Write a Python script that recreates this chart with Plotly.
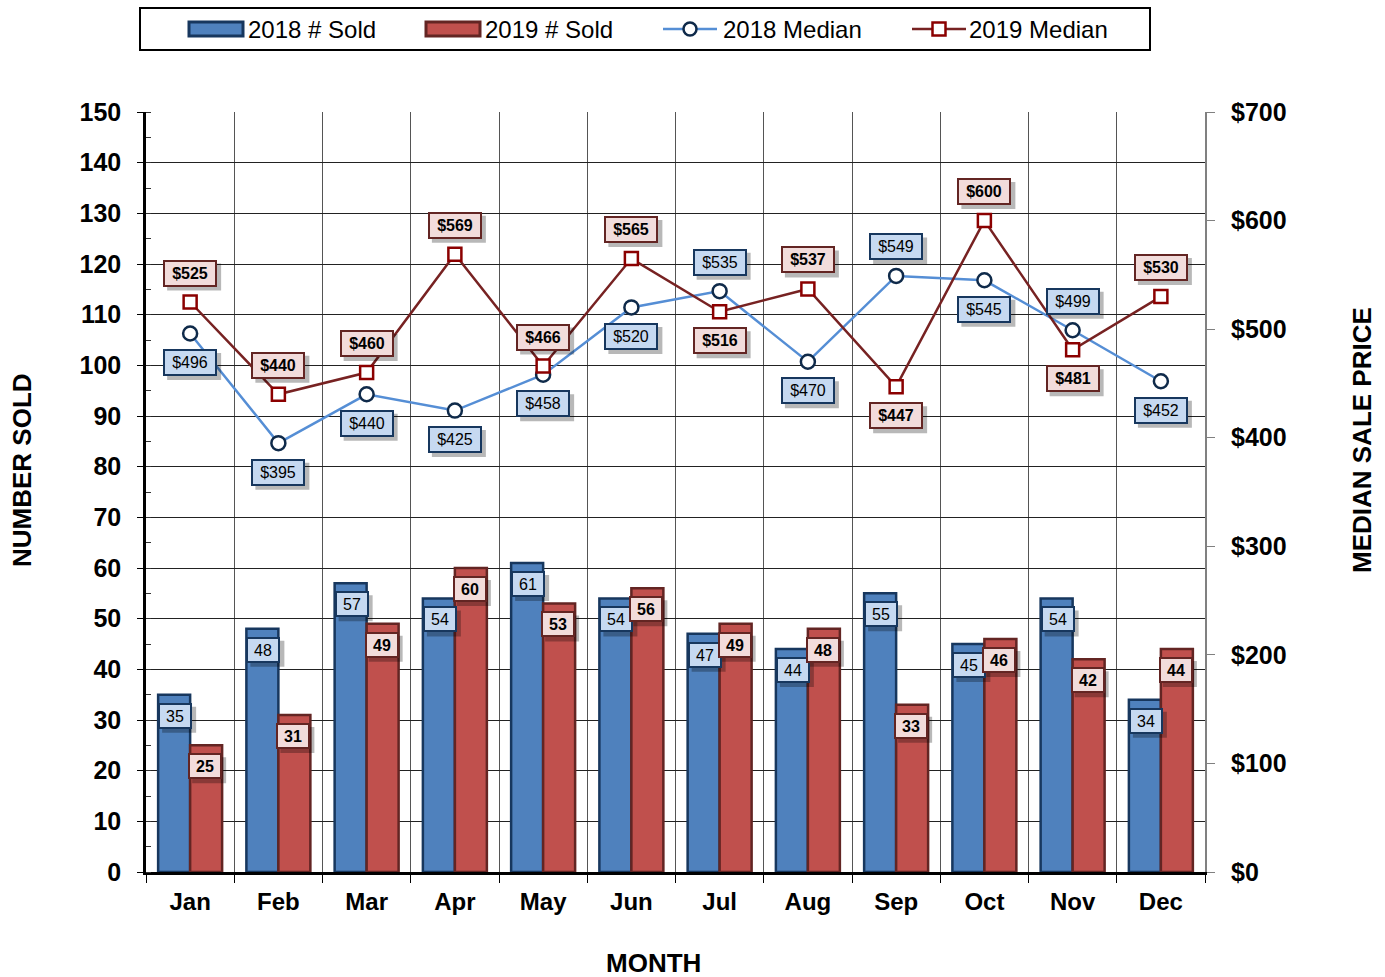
import plotly.graph_objects as go

months = ["Jan", "Feb", "Mar", "Apr", "May", "Jun", "Jul", "Aug", "Sep", "Oct", "Nov", "Dec"]
sold_2018 = [35, 48, 57, 54, 61, 54, 47, 44, 55, 45, 54, 34]
sold_2019 = [25, 31, 49, 60, 53, 56, 49, 48, 33, 46, 42, 44]
median_2018 = [496, 395, 440, 425, 458, 520, 535, 470, 549, 545, 499, 452]
median_2019 = [525, 440, 460, 569, 466, 565, 516, 537, 447, 600, 481, 530]
# label placement relative to the point: 1 = above, -1 = below
side_2018 = [-1, -1, -1, -1, -1, -1, 1, -1, 1, -1, 1, -1]
side_2019 = [1, 1, 1, 1, 1, 1, -1, 1, -1, 1, -1, 1]
series_names = ["2018 # Sold", "2019 # Sold", "2018 Median", "2019 Median"]

FONT = "Liberation Sans, Arial, sans-serif"
BLUE = "#4F81BD"
BLUE_EDGE = "#17375E"
RED = "#C0504D"
RED_EDGE = "#632523"
LBLUE_BG = "#C6D9F1"
PINK_BG = "#F2DCDB"
LINE18 = "#558ED5"
LINE19 = "#772222"
CIRCLE_EDGE = "#0F2A4A"
SQUARE_EDGE = "#8B0000"

W, H = 1385, 977
L, R, T, B = 146, 180, 112, 105
pw, ph = W - L - R, H - T - B


def px(x):
    return (x - L) / pw


def py(y):
    return (H - B - y) / ph


fig = go.Figure()
fig.add_trace(go.Bar(x=months, y=sold_2018, name=series_names[0], showlegend=False,
                     marker=dict(color=BLUE, line=dict(color=BLUE_EDGE, width=2.5))))
fig.add_trace(go.Bar(x=months, y=sold_2019, name=series_names[1], showlegend=False,
                     marker=dict(color=RED, line=dict(color=RED_EDGE, width=2.5))))
fig.add_trace(go.Scatter(x=months, y=median_2018, name=series_names[2], yaxis="y2",
                         mode="lines+markers", showlegend=False,
                         line=dict(color=LINE18, width=2.5),
                         marker=dict(symbol="circle", size=14, color="white",
                                     line=dict(color=CIRCLE_EDGE, width=2.5))))
fig.add_trace(go.Scatter(x=months, y=median_2019, name=series_names[3], yaxis="y2",
                         mode="lines+markers", showlegend=False,
                         line=dict(color=LINE19, width=2.5),
                         marker=dict(symbol="square", size=13, color="white",
                                     line=dict(color=SQUARE_EDGE, width=2.5))))

shadow_shapes = []
labels = []


def add_label(x, y, yref, text, xshift, yshift, bg, border, bold, w, h):
    txt = "<b>%s</b>" % text if bold else text
    tw, th = w + 8, h + 8  # full box size incl. padding and border
    sx, sy = xshift + 4, yshift - 4
    shadow_shapes.append(dict(type="rect", xref="x", yref=yref,
                              xsizemode="pixel", ysizemode="pixel",
                              xanchor=x, yanchor=y,
                              x0=sx - tw / 2, x1=sx + tw / 2,
                              y0=sy - th / 2, y1=sy + th / 2,
                              line=dict(width=0), fillcolor="rgba(0,0,0,0.28)",
                              layer="above"))
    labels.append(dict(text=txt, x=x, y=y, xref="x", yref=yref, showarrow=False,
                       width=w, height=h, borderpad=2, borderwidth=2,
                       align="center", valign="middle",
                       xshift=xshift, yshift=yshift,
                       font=dict(family=FONT, size=16, color="black"),
                       bgcolor=bg, bordercolor=border))


for m, v in zip(months, sold_2018):
    add_label(m, v, "y", str(v), -15, -21, LBLUE_BG, BLUE_EDGE, False, 26, 18)
for m, v in zip(months, sold_2019):
    add_label(m, v, "y", str(v), 15, -21, PINK_BG, RED_EDGE, True, 26, 18)
for m, v, s in zip(months, median_2018, side_2018):
    add_label(m, v, "y2", "$%d" % v, 0, 29 * s, LBLUE_BG, BLUE_EDGE, False, 46, 19)
for m, v, s in zip(months, median_2019, side_2019):
    add_label(m, v, "y2", "$%d" % v, 0, 29 * s, PINK_BG, RED_EDGE, True, 46, 19)

axis_titles = [
    dict(text="<b>NUMBER SOLD</b>", x=22, y=470, angle=-90),
    dict(text="<b>MEDIAN SALE PRICE</b>", x=1362, y=440, angle=-90),
    dict(text="<b>MONTH</b>", x=653, y=963, angle=0),
]
title_anns = []
for a in axis_titles:
    title_anns.append(dict(text=a["text"], x=px(a["x"]), y=py(a["y"]),
                           xref="paper", yref="paper", showarrow=False, textangle=a["angle"],
                           font=dict(family=FONT, size=26, color="black"),
                           xanchor="center", yanchor="middle"))

# legend drawn by hand to reproduce the wide bar swatches
shapes = [dict(type="rect", xref="paper", yref="paper",
               x0=px(140), x1=px(1150), y0=py(50), y1=py(8),
               line=dict(color="black", width=2), fillcolor="rgba(0,0,0,0)")]
leg_y = 29
legend_anns = []
for x0, fill, edge, name, tx in [(189, BLUE, BLUE_EDGE, series_names[0], 246),
                                 (426, RED, RED_EDGE, series_names[1], 483)]:
    shapes.append(dict(type="rect", xref="paper", yref="paper",
                       x0=px(x0), x1=px(x0 + 54), y0=py(leg_y + 7), y1=py(leg_y - 7),
                       line=dict(color=edge, width=3), fillcolor=fill))
    legend_anns.append(dict(text=name, x=px(tx), y=py(leg_y), xref="paper", yref="paper",
                            showarrow=False, xanchor="left", yanchor="middle",
                            font=dict(family=FONT, size=24, color="black")))
for x0, col, edge, kind, name, tx in [(663, LINE18, CIRCLE_EDGE, "circle", series_names[2], 721),
                                      (912, LINE19, SQUARE_EDGE, "rect", series_names[3], 967)]:
    cx = x0 + 27
    shapes.append(dict(type="line", xref="paper", yref="paper",
                       x0=px(x0), x1=px(x0 + 54), y0=py(leg_y), y1=py(leg_y),
                       line=dict(color=col, width=2.5)))
    r = 6.5
    shapes.append(dict(type=kind, xref="paper", yref="paper",
                       x0=px(cx - r), x1=px(cx + r), y0=py(leg_y + r), y1=py(leg_y - r),
                       line=dict(color=edge, width=2.5), fillcolor="white"))
    legend_anns.append(dict(text=name, x=px(tx), y=py(leg_y), xref="paper", yref="paper",
                            showarrow=False, xanchor="left", yanchor="middle",
                            font=dict(family=FONT, size=24, color="black")))

fig.update_layout(
    width=W, height=H,
    margin=dict(l=L, r=R, t=T, b=B, autoexpand=False),
    paper_bgcolor="white", plot_bgcolor="white",
    barmode="group", bargap=0.275, bargroupgap=0.0,
    font=dict(family=FONT, size=22, color="black"),
    showlegend=False,
    shapes=shapes + shadow_shapes,
    xaxis=dict(type="category", range=[-0.5, 11.5], tickson="boundaries", showgrid=True,
               gridcolor="#555555", gridwidth=1,
               ticks="outside", ticklen=8, tickcolor="black", tickwidth=1,
               showline=True, linecolor="black", linewidth=2.5,
               ticklabelstandoff=6,
               tickfont=dict(family=FONT, size=24, color="black", weight="bold"),
               zeroline=False),
    yaxis=dict(range=[0, 150], dtick=10, showgrid=True, gridcolor="#222222", gridwidth=1,
               ticks="outside", ticklen=6, tickcolor="black",
               showline=True, linecolor="black", linewidth=2.5, zeroline=False,
               ticklabelstandoff=11,
               tickfont=dict(family=FONT, size=25, color="black", weight="bold"),
               minor=dict(dtick=5, ticks="inside", ticklen=5, tickcolor="#333333",
                          showgrid=False)),
    yaxis2=dict(range=[0, 700], dtick=100, overlaying="y", side="right",
                tickprefix="$", showgrid=False, zeroline=False,
                ticks="outside", ticklen=8, tickcolor="#808080",
                showline=True, linecolor="#808080", linewidth=2,
                ticklabelstandoff=11,
                tickfont=dict(family=FONT, size=25, color="black", weight="bold")),
    annotations=labels + title_anns + legend_anns,
)

fig.write_html("out.html", post_script="document.body.style.margin='0px';",
               config={"displayModeBar": False})
